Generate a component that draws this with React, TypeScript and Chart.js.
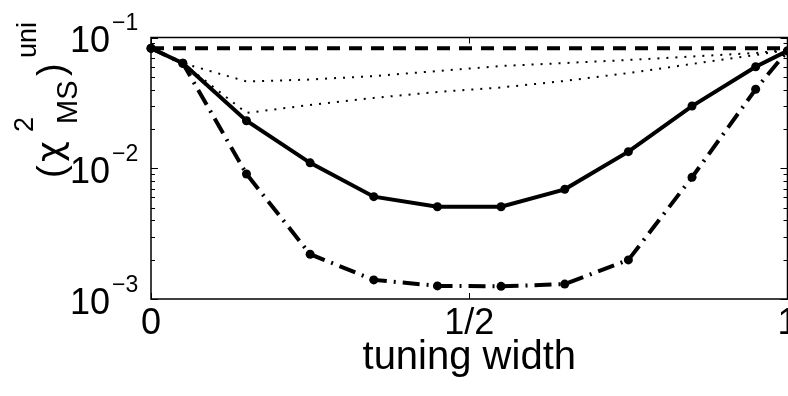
import React, { useEffect, useRef } from "react";
import { Chart, registerables } from "chart.js";

Chart.register(...registerables);

// tuning width positions
const tuningWidths = [0, 0.05, 0.15, 0.25, 0.35, 0.45, 0.55, 0.65, 0.75, 0.85, 0.95, 1];

// chi^2 (MS, uniform) for each curve
const solidCurve = [0.0827, 0.0636, 0.0231, 0.011, 0.00606, 0.00508, 0.00508, 0.0069, 0.0134, 0.0299, 0.0598, 0.079];
const dashDotCurve = [0.0827, 0.0636, 0.00904, 0.0022, 0.0014, 0.00126, 0.00125, 0.0013, 0.00199, 0.00853, 0.0402, 0.079];
const upperDottedCurve = [0.0827, 0.0636, 0.0461, 0.0477, 0.0507, 0.0554, 0.0605, 0.0638, 0.0673, 0.0716, 0.0761, 0.0803];
const lowerDottedCurve = [0.0827, 0.0636, 0.0265, 0.0305, 0.0345, 0.0383, 0.0415, 0.0465, 0.0535, 0.0627, 0.0735, 0.0803];
const baselineX = [0, 1];
const baselineY = [0.0827, 0.0827];

// axis ticks
const xTickValues = [0, 0.5, 1];
const xTickLabels = ["0", "1/2", "1"];
const yDecades = [-3, -2, -1];

const FONT = "'Liberation Sans', Arial, Helvetica, sans-serif";
const GREEK = "'DejaVu Sans', 'Liberation Sans', sans-serif";

const toPoints = (xs: number[], ys: number[]) => xs.map((x, i) => ({ x, y: ys[i] }));

const axesPlugin = {
  id: "matlabAxes",
  beforeDatasetsDraw(chart: any) {
    const { ctx, chartArea: a, scales } = chart;
    const xs = scales.x;
    const ys = scales.y;
    ctx.save();
    ctx.strokeStyle = "#000";
    ctx.lineWidth = 1.5;
    ctx.strokeRect(a.left, a.top, a.right - a.left, a.bottom - a.top);
    ctx.lineWidth = 1;
    ctx.beginPath();
    // y ticks, major and minor, inward on both sides
    for (const e of yDecades) {
      for (let k = 1; k <= 9; k++) {
        const v = k * Math.pow(10, e);
        if (v > 0.1 + 1e-12) continue;
        const py = Math.round(ys.getPixelForValue(v)) + 0.5;
        const len = k === 1 ? 7 : 4;
        ctx.moveTo(a.left, py);
        ctx.lineTo(a.left + len, py);
        ctx.moveTo(a.right, py);
        ctx.lineTo(a.right - len, py);
      }
    }
    // x ticks, inward on bottom and top
    for (const v of xTickValues) {
      const px = Math.round(xs.getPixelForValue(v)) + 0.5;
      ctx.moveTo(px, a.bottom);
      ctx.lineTo(px, a.bottom - 6);
      ctx.moveTo(px, a.top);
      ctx.lineTo(px, a.top + 6);
    }
    ctx.stroke();
    ctx.restore();
  },
  afterDraw(chart: any) {
    const { ctx, chartArea: a, scales } = chart;
    const xs = scales.x;
    const ys = scales.y;
    ctx.save();
    ctx.fillStyle = "#000";
    ctx.textBaseline = "alphabetic";

    // y tick labels: 10^e
    for (const e of yDecades) {
      const py = ys.getPixelForValue(Math.pow(10, e));
      ctx.font = `36px ${FONT}`;
      ctx.textAlign = "right";
      ctx.fillText("10", 110, py + 14.5);
      ctx.font = `23px ${FONT}`;
      ctx.textAlign = "left";
      ctx.fillText("\u2212" + String(-e), 112, py - 7.5);
    }

    // x tick labels
    ctx.font = `36px ${FONT}`;
    ctx.textAlign = "center";
    xTickValues.forEach((v, i) => {
      ctx.fillText(xTickLabels[i], xs.getPixelForValue(v), 334);
    });

    // x title
    ctx.font = `40px ${FONT}`;
    ctx.fillText("tuning width", (a.left + a.right) / 2, 369);

    // y title: (chi^2_MS)^uni, rotated
    ctx.translate(0, 180);
    ctx.rotate(-Math.PI / 2);
    ctx.textAlign = "left";
    const run = (t: string, size: number, u: number, v: number, family = FONT) => {
      ctx.font = `${size}px ${family}`;
      ctx.fillText(t, u, v);
    };
    run("(", 38, 2, 64);
    run("\u03C7", 36, 18, 62, GREEK);
    run("2", 27, 48, 33);
    run("MS", 29, 56, 77);
    run(")", 38, 104, 64);
    run("uni", 27, 122, 36);
    ctx.restore();
  },
};

export default function App() {
  const canvasRef = useRef<HTMLCanvasElement | null>(null);

  useEffect(() => {
    const canvas = canvasRef.current;
    if (!canvas) return;
    const common = { borderColor: "#000", backgroundColor: "#000", fill: false, tension: 0, clip: false as any };
    const chart = new Chart(canvas, {
      type: "line",
      data: {
        datasets: [
          {
            ...common,
            data: toPoints(tuningWidths, upperDottedCurve),
            borderWidth: 2,
            borderDash: [2, 7],
            pointRadius: 0,
          },
          {
            ...common,
            data: toPoints(tuningWidths, lowerDottedCurve),
            borderWidth: 2,
            borderDash: [2, 7],
            pointRadius: 0,
          },
          {
            ...common,
            data: toPoints(baselineX, baselineY),
            borderWidth: 4,
            borderDash: [13, 9],
            pointRadius: 0,
          },
          {
            ...common,
            data: toPoints(tuningWidths, dashDotCurve),
            borderWidth: 4,
            borderDash: [17, 7, 2, 7],
            pointRadius: 4.5,
            pointBorderWidth: 0,
            pointBackgroundColor: "#000",
          },
          {
            ...common,
            data: toPoints(tuningWidths, solidCurve),
            borderWidth: 4,
            pointRadius: 4.5,
            pointBorderWidth: 0,
            pointBackgroundColor: "#000",
          },
        ],
      },
      options: {
        responsive: false,
        maintainAspectRatio: false,
        devicePixelRatio: 1,
        animation: false,
        layout: { padding: { left: 151, top: 37.5, right: 32.5, bottom: 97 } },
        scales: {
          x: { type: "linear", min: 0, max: 1, display: false },
          y: { type: "logarithmic", min: 0.001, max: 0.1, display: false },
        },
        plugins: { legend: { display: false }, tooltip: { enabled: false } },
        elements: { line: { borderCapStyle: "butt", borderJoinStyle: "miter" } },
      },
      plugins: [axesPlugin],
    });
    return () => chart.destroy();
  }, []);

  return (
    <div
      style={{
        position: "fixed",
        left: 0,
        top: 0,
        width: 788,
        height: 396,
        overflow: "hidden",
        background: "#fff",
      }}
    >
      <canvas ref={canvasRef} width={820} height={396} style={{ display: "block", width: 820, height: 396 }} />
    </div>
  );
}
